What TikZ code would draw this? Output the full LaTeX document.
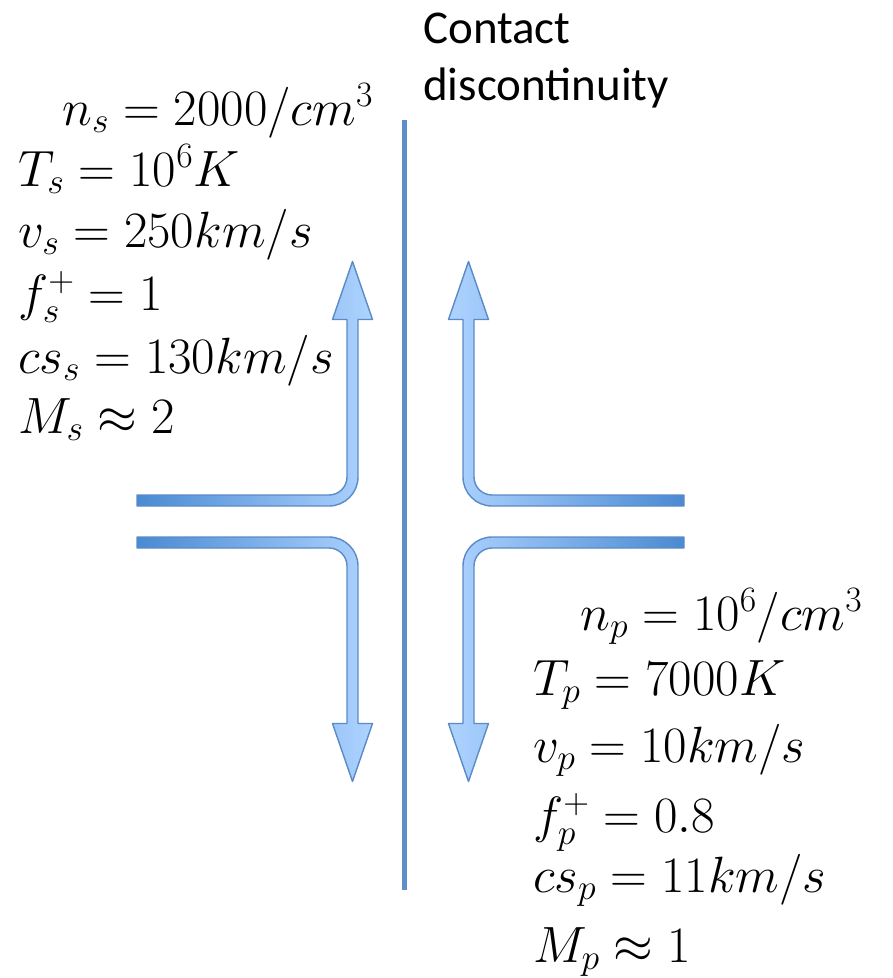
\RequirePackage{fix-cm}
\documentclass[tikz,border=0pt]{standalone}
\usepackage{amsmath, amssymb}
\usepackage{fontspec}
\newfontfamily\labelfont{Carlito}
\usepackage{xcolor}
\usepackage{tikz}
\usetikzlibrary{calc, positioning}

\definecolor{cdblue}{HTML}{5E8FC8}
\definecolor{arrdark}{HTML}{4A8AD2}
\definecolor{arrmid}{HTML}{8DBDF3}
\definecolor{arrlight}{HTML}{AED3FF}
\definecolor{arredge}{HTML}{5A8BC7}

\tikzset{
    valtext/.style={anchor=base west, inner sep=0pt, font=\fontsize{51}{61}\selectfont},
    arrowbody/.style={draw=arredge, line width=1.4pt, line join=round},
    darkleft/.style={arrowbody, left color=arrdark, middle color=arrmid, right color=arrlight},
    darkright/.style={arrowbody, left color=arrlight, middle color=arrmid, right color=arrdark},
    bent arrow/.pic={
        \path[#1] (-215.5,-5.5) -- (-23.5,-5.5)
            .. controls (-13.6,-5.5) and (-5.5,-13.6) .. (-5.5,-23.5)
            -- (-5.5,-181) -- (-20,-181) -- (0,-239) -- (20,-181) -- (5.5,-181)
            -- (5.5,-23.5) .. controls (5.5,-7.5) and (-7.5,5.5) .. (-23.5,5.5)
            -- (-215.5,5.5) -- cycle;
    }
}

\begin{document}
\begin{tikzpicture}[x=1pt, y=-1pt, >=latex]
    \useasboundingbox (0,0) rectangle (893,978);

    % Mặt gián đoạn tiếp xúc
    \coordinate (cdtop) at (404.5,120);
    \coordinate (cdbot) at (404.5,890);
    \draw[cdblue, line width=5pt] (cdtop) -- (cdbot);
    \node[anchor=north west, inner sep=0pt, align=left,
        font=\labelfont\fontsize{47}{57}\selectfont] (cdlabel) at (423,13) {Contact\\discontinuity};

    % Các mũi tên dòng chảy
    \pic at (352.5,500.5) {bent arrow=darkleft};
    \pic[xscale=-1] at (468.5,500.5) {bent arrow=darkright};
    \pic[yscale=-1] at (352.5,542.5) {bent arrow=darkleft};
    \pic[scale=-1] at (468.5,542.5) {bent arrow=darkright};

    % Thông số hai phía
    \foreach \xx/\yy/\val [count=\i] in {
        62/125/{$n_s = 2000/cm^3$},
        18/186/{$T_s = 10^6K$},
        18/247/{$v_s = 250km/s$},
        18/310/{$f_s^+ = 1$},
        18/373/{$cs_s = 130km/s$},
        18/433/{$M_s \approx 2$}}
        \node[valtext] (side\i) at (\xx,\yy) {\val};
    \foreach \xx/\yy/\val [count=\i] in {
        580/630/{$n_p = 10^6/cm^3$},
        533/695/{$T_p = 7000K$},
        533/762/{$v_p = 10km/s$},
        533/832/{$f_p^+ = 0.8$},
        533/892/{$cs_p = 11km/s$},
        533/962/{$M_p \approx 1$}}
        \node[valtext] (plas\i) at (\xx,\yy) {\val};

\end{tikzpicture}
\end{document}
